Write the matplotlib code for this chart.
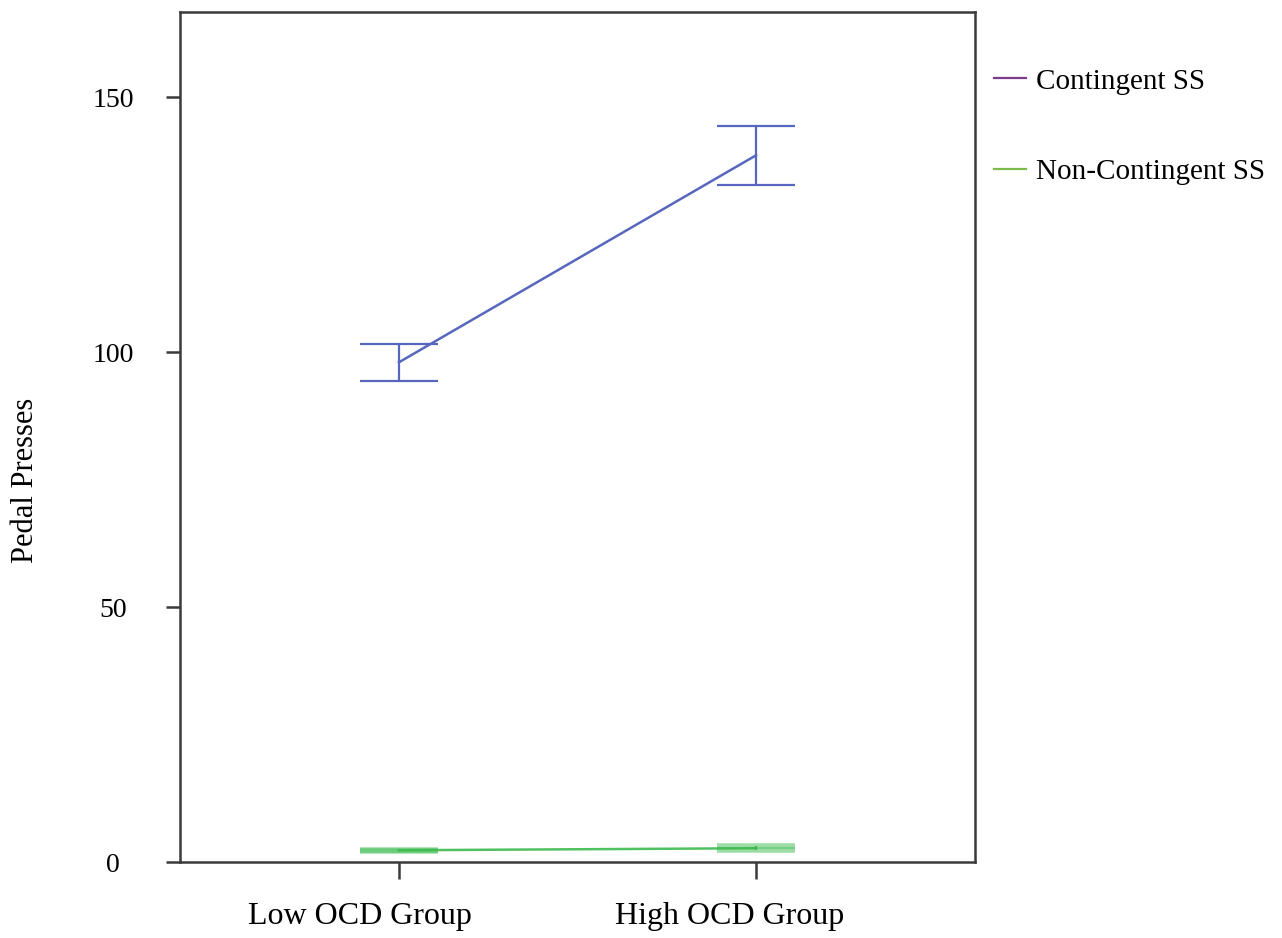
import matplotlib
matplotlib.use("Agg")
import matplotlib.pyplot as plt
import matplotlib.transforms as mtransforms
from matplotlib.lines import Line2D

groups = ["Low OCD Group", "High OCD Group"]
contingent_mean = [98.0, 138.6]
contingent_err = [3.6, 5.8]
noncontingent_mean = [2.3, 2.7]
noncontingent_err = [0.15, 0.4]
legend_labels = ["Contingent SS", "Non-Contingent SS"]
y_ticks = [0, 50, 100, 150]

C_BLUE = "#5767BD"
C_GREEN = "#3DBB4F"
C_LEG_PURPLE = "#7A3B8C"
C_LEG_GREEN = "#7DBA4C"
C_SPINE = "#3A3A3A"

plt.rcParams.update({
    "font.family": ["Liberation Serif", "DejaVu Serif"],
    "font.size": 20,
})

fig = plt.figure(figsize=(12.82, 9.38), dpi=100)
ax = fig.add_axes([180 / 1282, 1 - 862 / 938, 795 / 1282, 850 / 938])

x = list(range(len(groups)))

ax.errorbar(x, contingent_mean, yerr=contingent_err, color=C_BLUE, lw=1.8,
            elinewidth=1.6, capsize=28, capthick=1.6)
line, caps, bars = ax.errorbar(x, noncontingent_mean, yerr=noncontingent_err,
                               color=C_GREEN, lw=1.8, elinewidth=1.5,
                               capsize=28, capthick=4)
for c in caps:
    c.set_alpha(0.5)
line.set_alpha(0.9)

ax.set_xlim(-0.613, 1.613)
ax.set_ylim(0, 166.7)
ax.set_xticks(x)
ax.set_xticklabels(groups)
ax.set_yticks(y_ticks)

for s in ax.spines.values():
    s.set_color(C_SPINE)
    s.set_linewidth(1.8)

ax.tick_params(axis="x", direction="out", length=12, width=1.8, color=C_SPINE,
               pad=17, labelsize=23)
ax.tick_params(axis="y", direction="out", length=10, width=1.8, color=C_SPINE,
               pad=38, labelsize=20)
for lab in ax.get_yticklabels():
    lab.set_horizontalalignment("center")

# the category labels sit a bit left of the tick marks
for lab, dx in zip(ax.get_xticklabels(), [-0.39, -0.26]):
    offset = mtransforms.ScaledTranslation(dx, 0, fig.dpi_scale_trans)
    lab.set_transform(lab.get_transform() + offset)

fig.text(26 / 1282, 1 - 480 / 938, "Pedal Presses", rotation=90,
         ha="center", va="center", fontsize=22)

handles = [Line2D([], [], color=C_LEG_PURPLE, lw=1.6),
           Line2D([], [], color=C_LEG_GREEN, lw=1.6)]
fig.legend(handles, legend_labels, loc="upper left",
           bbox_to_anchor=(968 / 1282, 1 - 42 / 938), frameon=False,
           handlelength=1.1, handletextpad=0.33, labelspacing=2.2, fontsize=21)

fig.savefig("out.png", dpi=100, facecolor="white")
